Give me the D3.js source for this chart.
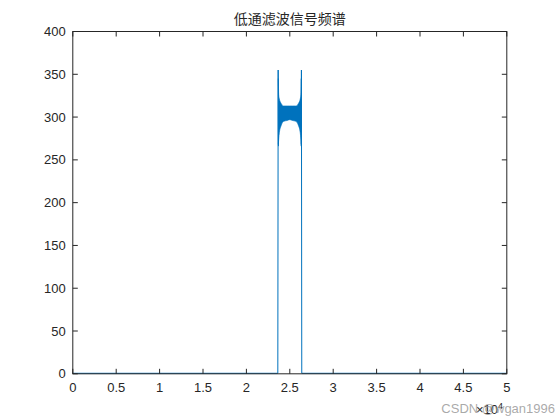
<!DOCTYPE html>
<html>
<head>
<meta charset="utf-8">
<script src="https://cdn.jsdelivr.net/npm/d3@7"></script>
<style>
  body { margin: 0; background: #fff; }
  svg { display: block; font-family: "Liberation Sans", Arial, sans-serif; }
</style>
</head>
<body>
<div id="chart"></div>
<script>
// frequency in units of 1e4 Hz
const xTicks = [0, 0.5, 1, 1.5, 2, 2.5, 3, 3.5, 4, 4.5, 5];
const yTicks = [0, 50, 100, 150, 200, 250, 300, 350, 400];

// outline of the spectrum (edges of the pass band), null = gap
const edgeFreq = [0, 2.362, 2.366, 2.369, null, 2.631, 2.634, 2.638, 5];
const edgeAmp  = [0.6, 0.6, 355, 266, null, 266, 355, 0.6, 0.6];

// envelope of the oscillating pass band
const bandFreq  = [2.368, 2.372, 2.38, 2.40, 2.43, 2.47, 2.50, 2.53, 2.57, 2.60, 2.62, 2.628, 2.632];
const bandUpper = [345, 326, 321, 316, 313, 313, 313, 313, 313, 316, 321, 326, 345];
const bandLower = [268, 274, 282, 290, 295, 296, 297, 296, 295, 290, 282, 274, 268];

const width = 560, height = 420;
const margin = { left: 72.8, right: 53.2, top: 31.5, bottom: 46.2 };
const innerW = width - margin.left - margin.right;
const innerH = height - margin.top - margin.bottom;
const axisColor = '#262626';
const lineColor = '#0072BD';

const svg = d3.select('#chart').append('svg')
  .attr('width', width)
  .attr('height', height);

const x = d3.scaleLinear().domain([0, 5]).range([margin.left, margin.left + innerW]);
const y = d3.scaleLinear().domain([0, 400]).range([margin.top + innerH, margin.top]);

// data
const g = svg.append('g');

let band = d3.area()
  .x((d, i) => x(bandFreq[i]))
  .y0((d, i) => y(bandLower[i]))
  .y1((d, i) => y(bandUpper[i]))
  .curve(d3.curveMonotoneX);

g.append('path')
  .attr('d', band(bandFreq))
  .attr('fill', lineColor)
  .attr('stroke', lineColor)
  .attr('stroke-width', 0.6);

let edge = d3.line()
  .defined((d, i) => edgeFreq[i] != null)
  .x((d, i) => x(edgeFreq[i]))
  .y((d, i) => y(edgeAmp[i]));

g.append('path')
  .attr('d', edge(edgeFreq))
  .attr('fill', 'none')
  .attr('stroke', lineColor)
  .attr('stroke-width', 1);

// axes box with inward ticks on all sides
const tickLen = 5;
const axes = svg.append('g').attr('stroke', axisColor).attr('stroke-width', 1);

axes.append('rect')
  .attr('x', margin.left)
  .attr('y', margin.top)
  .attr('width', innerW)
  .attr('height', innerH)
  .attr('fill', 'none');

xTicks.forEach(t => {
  axes.append('line')
    .attr('x1', x(t)).attr('x2', x(t))
    .attr('y1', y(0)).attr('y2', y(0) - tickLen);
  axes.append('line')
    .attr('x1', x(t)).attr('x2', x(t))
    .attr('y1', y(400)).attr('y2', y(400) + tickLen);
});

yTicks.forEach(t => {
  axes.append('line')
    .attr('x1', x(0)).attr('x2', x(0) + tickLen)
    .attr('y1', y(t)).attr('y2', y(t));
  axes.append('line')
    .attr('x1', x(5)).attr('x2', x(5) - tickLen)
    .attr('y1', y(t)).attr('y2', y(t));
});

// tick labels
svg.append('g').selectAll('text')
  .data(xTicks)
  .join('text')
  .attr('x', d => x(d))
  .attr('y', y(0) + 18)
  .attr('text-anchor', 'middle')
  .attr('font-size', 13)
  .attr('fill', axisColor)
  .text(d => d);

svg.append('g').selectAll('text')
  .data(yTicks)
  .join('text')
  .attr('x', x(0) - 7)
  .attr('y', d => y(d) + 4.5)
  .attr('text-anchor', 'end')
  .attr('font-size', 13)
  .attr('fill', axisColor)
  .text(d => d);

// exponent label
let expo = svg.append('text')
  .attr('x', 476)
  .attr('y', 414)
  .attr('font-size', 13)
  .attr('fill', axisColor);
expo.append('tspan').text('×10');
expo.append('tspan').attr('dy', -5).attr('font-size', 9).text('4');

// title
svg.append('text')
  .attr('x', margin.left + innerW / 2)
  .attr('y', 24)
  .attr('text-anchor', 'middle')
  .attr('font-size', 14)
  .attr('font-family', '"Noto Sans CJK SC", sans-serif')
  .attr('fill', '#262626')
  .text('低通滤波信号频谱');

// watermark
svg.append('text')
  .attr('x', 555)
  .attr('y', 413)
  .attr('text-anchor', 'end')
  .attr('font-size', 13)
  .attr('fill', '#9a9a9a')
  .attr('fill-opacity', 0.85)
  .text('CSDN @wgan1996');
</script>
</body>
</html>
